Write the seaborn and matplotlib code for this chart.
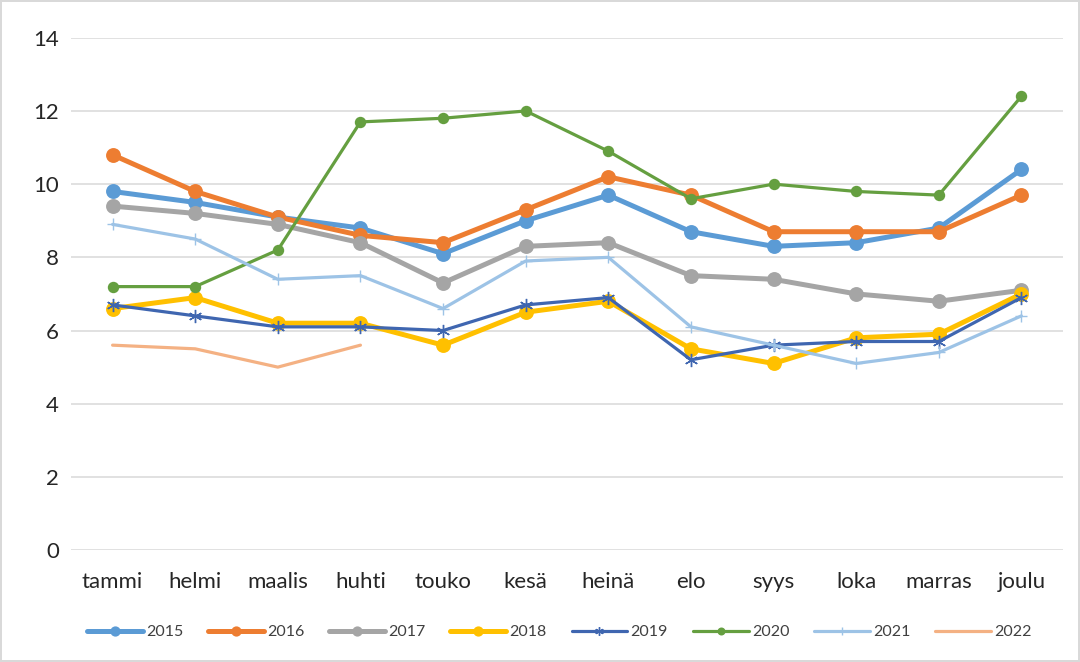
import matplotlib
matplotlib.use("Agg")
import matplotlib.pyplot as plt
import seaborn as sns
import pandas as pd

months = ["tammi", "helmi", "maalis", "huhti", "touko", "kesä", "heinä",
          "elo", "syys", "loka", "marras", "joulu"]
y2015 = [9.8, 9.5, 9.1, 8.8, 8.1, 9.0, 9.7, 8.7, 8.3, 8.4, 8.8, 10.4]
y2016 = [10.8, 9.8, 9.1, 8.6, 8.4, 9.3, 10.2, 9.7, 8.7, 8.7, 8.7, 9.7]
y2017 = [9.4, 9.2, 8.9, 8.4, 7.3, 8.3, 8.4, 7.5, 7.4, 7.0, 6.8, 7.1]
y2018 = [6.6, 6.9, 6.2, 6.2, 5.6, 6.5, 6.8, 5.5, 5.1, 5.8, 5.9, 7.0]
y2019 = [6.7, 6.4, 6.1, 6.1, 6.0, 6.7, 6.9, 5.2, 5.6, 5.7, 5.7, 6.9]
y2020 = [7.2, 7.2, 8.2, 11.7, 11.8, 12.0, 10.9, 9.6, 10.0, 9.8, 9.7, 12.4]
y2021 = [8.9, 8.5, 7.4, 7.5, 6.6, 7.9, 8.0, 6.1, 5.6, 5.1, 5.4, 6.4]
y2022 = [5.6, 5.5, 5.0, 5.6]

series = {"2015": y2015, "2016": y2016, "2017": y2017, "2018": y2018,
          "2019": y2019, "2020": y2020, "2021": y2021, "2022": y2022}

colors = {"2015": "#5B9BD5", "2016": "#ED7D31", "2017": "#A5A5A5", "2018": "#FFC000",
          "2019": "#3F66B0", "2020": "#659F40", "2021": "#9DC3E6", "2022": "#F4B183"}
styles = {
    "2015": dict(lw=3.6, marker="o", ms=9.5),
    "2016": dict(lw=3.6, marker="o", ms=9.5),
    "2017": dict(lw=3.6, marker="o", ms=9.5),
    "2018": dict(lw=3.6, marker="o", ms=9.5),
    "2019": dict(lw=2.3, marker=(6, 2, 0), ms=9.5),
    "2020": dict(lw=2.3, marker="o", ms=7),
    "2021": dict(lw=2.3, marker="+", ms=8.5),
    "2022": dict(lw=2.3, marker=None, ms=0),
}

rows = []
for yr, vals in series.items():
    for i, v in enumerate(vals):
        rows.append({"year": yr, "pos": i, "value": v})
df = pd.DataFrame(rows)

sns.set_theme(style="white")
plt.rcParams["font.family"] = ["Lato", "DejaVu Sans"]

fig = plt.figure(figsize=(10.8, 6.62), dpi=100)
fig.patch.set_edgecolor("#D9D9D9")
fig.patch.set_linewidth(1.5)
ax = fig.add_axes([0.066, 0.169, 0.918, 0.774])

for yr in series:
    st = styles[yr]
    sub = df[df.year == yr]
    sns.lineplot(data=sub, x="pos", y="value", ax=ax, color=colors[yr],
                 linewidth=st["lw"], marker=st["marker"], markersize=st["ms"],
                 markeredgecolor=colors[yr],
                 markeredgewidth=1.0 if yr in ("2019", "2021") else 1.2,
                 label=yr, legend=False, solid_capstyle="round", solid_joinstyle="round")

ax.set_xlim(-0.5, 11.5)
ax.set_ylim(0, 14)
ax.set_yticks(range(0, 15, 2))
ax.set_xticks(range(12))
ax.set_xticklabels(months)
ax.tick_params(axis="both", length=0, labelsize=16, colors="#262626")
ax.tick_params(axis="x", pad=16)
ax.tick_params(axis="y", pad=9)
ax.grid(axis="y", color="#D9D9D9", linewidth=1.1)
ax.set_axisbelow(True)
for s in ax.spines.values():
    s.set_visible(False)
ax.set_xlabel("")
ax.set_ylabel("")

handles, labels = ax.get_legend_handles_labels()
leg = fig.legend(handles, labels, loc="center", bbox_to_anchor=(0.518, 0.045), ncol=8,
                 frameon=False, fontsize=11.5, handlelength=3.5, columnspacing=1.55,
                 handletextpad=0.2, markerscale=0.65)
for t in leg.get_texts():
    t.set_color("#404040")

fig.savefig("out.png", dpi=100)
